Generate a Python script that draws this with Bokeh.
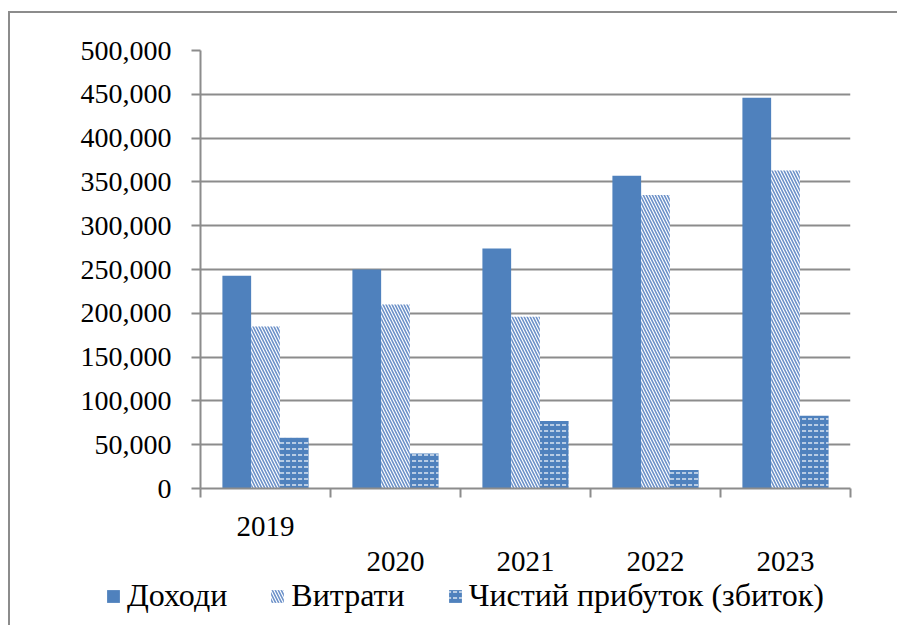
from bokeh.plotting import figure
from bokeh.layouts import column
from bokeh.models import (Range1d, LinearAxis, FixedTicker, NumeralTickFormatter,
                          ColumnDataSource, Legend, LegendItem)
from bokeh.transform import dodge
from bokeh.embed import file_html
from bokeh.resources import INLINE

years = ["2019", "2020", "2021", "2022", "2023"]
revenue = [243000, 250000, 274000, 357000, 446000]
expenses = [185000, 210000, 196000, 335000, 363000]
profit = [58000, 40000, 77000, 21000, 83000]
series_names = ["Доходи", "Витрати", "Чистий прибуток (збиток)"]
y_ticks = [0, 50000, 100000, 150000, 200000, 250000, 300000, 350000, 400000, 450000, 500000]

FONT = "Liberation Serif"
GRAY = "#8c8c8c"
BLUE = "#4F81BD"

idx = list(range(len(years)))
source = ColumnDataSource(dict(x=idx, year=years, revenue=revenue,
                               expenses=expenses, profit=profit))

bw = 0.221
styles = [dict(fill_color=BLUE, line_color=None),
          dict(fill_color="white", line_color=None, hatch_pattern="\\", hatch_color="#6b90c8",
               hatch_scale=6, hatch_weight=1.6),
          dict(fill_color=BLUE, line_color=None, hatch_pattern='"', hatch_color="white",
               hatch_scale=6, hatch_weight=1.2)]
cols = ["revenue", "expenses", "profit"]
offsets = [-bw, 0, bw]


def add_bars(fig, visible=True):
    rs = []
    for c, off, st in zip(cols, offsets, styles):
        rs.append(fig.vbar(x=dodge('x', off, range=fig.x_range), top=c, width=bw,
                           source=source, visible=visible, **st))
    return rs


p = figure(width=887, height=562,
           x_range=Range1d(-0.5, len(years) - 0.5), y_range=Range1d(0, y_ticks[-1]),
           output_backend="svg", toolbar_location=None,
           min_border_left=190, min_border_right=47, min_border_top=37, min_border_bottom=87)
p.frame_align = False
add_bars(p)

# y axis
yax = p.yaxis[0]
yax.ticker = FixedTicker(ticks=y_ticks)
yax.formatter = NumeralTickFormatter(format="0,0")
yax.major_tick_out = 9
yax.major_tick_in = 0
yax.minor_tick_line_color = None
yax.axis_line_color = GRAY
yax.axis_line_width = 2
yax.major_tick_line_color = GRAY
yax.major_tick_line_width = 2
yax.major_label_text_font = FONT
yax.major_label_text_font_size = "28px"
yax.major_label_text_color = "black"
yax.major_label_standoff = 20

p.ygrid.ticker = FixedTicker(ticks=y_ticks)
p.ygrid.grid_line_color = GRAY
p.ygrid.grid_line_width = 2
p.xgrid.visible = False
p.outline_line_color = None

# x axis 1: boundary ticks + first label
xax = p.xaxis[0]
xax.ticker = FixedTicker(ticks=[idx[0]], minor_ticks=[i - 0.5 for i in range(len(years) + 1)])
xax.major_label_overrides = {idx[0]: years[0]}
xax.major_tick_out = 0
xax.major_tick_in = 0
xax.major_tick_line_color = None
xax.minor_tick_out = 9
xax.minor_tick_in = 0
xax.minor_tick_line_color = GRAY
xax.minor_tick_line_width = 2
xax.axis_line_color = GRAY
xax.axis_line_width = 2
xax.major_label_text_font = FONT
xax.major_label_text_font_size = "29px"
xax.major_label_text_color = "black"
xax.major_label_standoff = 19

# x axis 2: remaining labels (staggered)
xax2 = LinearAxis(ticker=FixedTicker(ticks=idx[1:]),
                  major_label_overrides={i: years[i] for i in idx[1:]},
                  axis_line_color=None, major_tick_line_color=None, minor_tick_line_color=None,
                  major_tick_out=0, major_tick_in=0, minor_tick_out=0, minor_tick_in=0,
                  major_label_text_font=FONT, major_label_text_font_size="29px",
                  major_label_text_color="black", major_label_standoff=13)
p.add_layout(xax2, "below")

# legend strip
lf = figure(width=887, height=50,
            x_range=Range1d(-0.5, len(years) - 0.5), y_range=Range1d(0, 1),
            output_backend="svg", toolbar_location=None, min_border=0)
lf.frame_align = False
lf.axis.visible = False
lf.grid.visible = False
lf.outline_line_color = None
lr = add_bars(lf, visible=False)

legend = Legend(items=[LegendItem(label=n, renderers=[r]) for n, r in zip(series_names, lr)],
                orientation="horizontal", location=(95, 11),
                glyph_width=16, glyph_height=16, label_standoff=6, spacing=42,
                padding=0, margin=0, border_line_color=None, background_fill_alpha=0,
                label_text_font=FONT, label_text_font_size="32px", label_text_color="black")
lf.add_layout(legend, "center")

layout = column(p, lf, spacing=0)
layout.margin = (11, 0, 0, 8)
layout.styles = {"border-left": "2px solid #8c8c8c", "border-top": "2px solid #8c8c8c"}

open("out.html", "w").write(file_html(layout, INLINE))
